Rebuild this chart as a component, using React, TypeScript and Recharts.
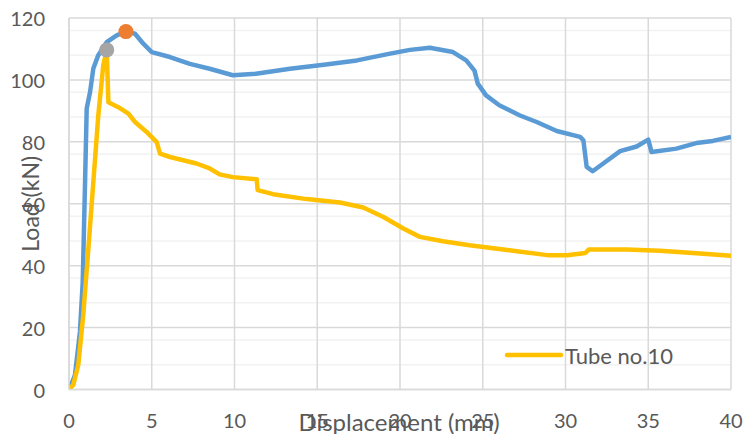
import React from "react";
import {
  ComposedChart,
  Line,
  Scatter,
  XAxis,
  YAxis,
  CartesianGrid,
  Legend,
} from "recharts";

// Load-displacement curves
const blueCurve = [
  [0, 0], [0.06, 0.5], [0.36, 4.7], [0.66, 18.6], [0.83, 34.8], [0.97, 67],
  [1.07, 90.8], [1.27, 96], [1.47, 103.7], [1.77, 108], [2.28, 112.2],
  [2.88, 114.4], [3.44, 115.6], [3.99, 114.9], [4.49, 111.7], [5.0, 109],
  [6.1, 107.4], [7.3, 105.2], [8.5, 103.6], [9.9, 101.5], [11.3, 102],
  [13.35, 103.6], [15.4, 104.9], [17.4, 106.3], [19.4, 108.5], [20.6, 109.7],
  [21.8, 110.4], [23.2, 109], [24.0, 106.3], [24.5, 103], [24.7, 98.8],
  [25.2, 95], [26.0, 91.8], [27.25, 88.5], [28.26, 86.4], [29.47, 83.5],
  [30.88, 81.6], [31.08, 80.5], [31.28, 71.9], [31.64, 70.5], [32.28, 73],
  [33.3, 77], [34.3, 78.5], [35.0, 80.7], [35.2, 76.7], [36.7, 77.8],
  [37.9, 79.6], [38.9, 80.3], [40, 81.6],
];

const tube10Curve = [
  [0, 0], [0.26, 1.5], [0.56, 7.9], [0.86, 24], [1.17, 45.5], [1.47, 67],
  [1.77, 88.5], [2.07, 104.7], [2.28, 109.7], [2.38, 92.8], [2.98, 91.2],
  [3.59, 89.1], [3.99, 86.4], [4.69, 83.2], [5.3, 79.9], [5.5, 76.2],
  [6.1, 75.1], [7.7, 73], [8.5, 71.4], [9.1, 69.5], [9.9, 68.6],
  [11.34, 67.9], [11.4, 64.4], [12.34, 63.1], [14.36, 61.5], [16.37, 60.4],
  [17.78, 58.8], [19.0, 55.7], [20.2, 52], [21.2, 49.3], [22.6, 47.9],
  [24.2, 46.6], [26.6, 45], [28.9, 43.4], [30.1, 43.4], [31.2, 44.1],
  [31.4, 45.2], [33.7, 45.2], [35.7, 44.8], [37.7, 44.1], [40, 43.2],
];

// peak markers
const bluePeak = [[3.44, 115.6]];
const tube10Peak = [[2.28, 109.7]];

const xTicks = [0, 5, 10, 15, 20, 25, 30, 35, 40];
const yTicks = [0, 20, 40, 60, 80, 100, 120];
const yMinor = [4, 8, 12, 16, 24, 28, 32, 36, 44, 48, 52, 56, 64, 68, 72, 76, 84, 88, 92, 96, 104, 108, 112, 116];

const toRows = (pts: number[][]) => pts.map(([x, y]) => ({ x, y }));

const FONT = "Lato, 'Open Sans', sans-serif";
const TEXT = "#595959";

const XTick = ({ x, payload }: any) => (
  <text x={x} y={420} textAnchor="middle" dominantBaseline="central" fill={TEXT} fontSize={20} fontFamily={FONT}>
    {payload.value}
  </text>
);

const YTick = ({ y, payload }: any) => (
  <text x={45} y={y} textAnchor="end" dominantBaseline="central" fill={TEXT} fontSize={20} fontFamily={FONT}>
    {payload.value}
  </text>
);

const LegendBox = () => (
  <svg width={220} height={30} style={{ position: "absolute", left: 500, top: 340 }}>
    <line x1={7} y1={15} x2={61} y2={15} stroke="#FFC000" strokeWidth={4.5} strokeLinecap="round" />
    <text x={65} y={15} dominantBaseline="central" fill={TEXT} fontSize={22} fontFamily={FONT}>
      Tube no.10
    </text>
  </svg>
);

const Dot = (color: string) => (p: any) => <circle cx={p.cx} cy={p.cy} r={7.5} fill={color} />;

export default function App() {
  return (
    <div style={{ position: "absolute", left: 0, top: 0, width: 744, height: 434, background: "#fff" }}>
      <ComposedChart width={744} height={434} margin={{ top: 18, right: 13, bottom: 0, left: 0 }}>
        <CartesianGrid horizontalValues={yMinor} vertical={false} stroke="#F2F2F2" strokeWidth={1.5} />
        <CartesianGrid horizontalValues={yTicks} verticalValues={xTicks} stroke="#D9D9D9" strokeWidth={1.5} />
        <XAxis
          type="number"
          dataKey="x"
          domain={[0, 40]}
          ticks={xTicks}
          tick={<XTick />}
          tickLine={false}
          axisLine={{ stroke: "#D9D9D9", strokeWidth: 1.5 }}
          height={44.5}
          allowDataOverflow
          label={{
            content: ({ viewBox }: any) => (
              <text x={viewBox.x + viewBox.width / 2 - 1} y={421} textAnchor="middle" dominantBaseline="central" fill={TEXT} fontSize={24} fontFamily={FONT}>
                Displacement (mm)
              </text>
            ),
          }}
        />
        <YAxis
          type="number"
          dataKey="y"
          domain={[0, 120]}
          ticks={yTicks}
          tick={<YTick />}
          tickLine={false}
          axisLine={{ stroke: "#D9D9D9", strokeWidth: 1.5 }}
          width={69}
          allowDataOverflow
          label={{
            content: ({ viewBox }: any) => {
              const cy = viewBox.y + viewBox.height / 2;
              return (
                <text x={30} y={cy} transform={`rotate(-90 30 ${cy})`} textAnchor="middle" dominantBaseline="central" fill={TEXT} fontSize={23} fontFamily={FONT}>
                  Load (kN)
                </text>
              );
            },
          }}
        />
        <Line data={toRows(blueCurve)} dataKey="y" type="linear" stroke="#5B9BD5" strokeWidth={4.5} dot={false} isAnimationActive={false} strokeLinejoin="round" />
        <Line data={toRows(tube10Curve)} dataKey="y" type="linear" stroke="#FFC000" strokeWidth={4.5} dot={false} isAnimationActive={false} strokeLinejoin="round" name="Tube no.10" />
        <Scatter data={toRows(bluePeak)} dataKey="y" shape={Dot("#ED7D31")} isAnimationActive={false} />
        <Scatter data={toRows(tube10Peak)} dataKey="y" shape={Dot("#A5A5A5")} isAnimationActive={false} />
        <Legend content={() => null} />
      </ComposedChart>
      <LegendBox />
    </div>
  );
}
